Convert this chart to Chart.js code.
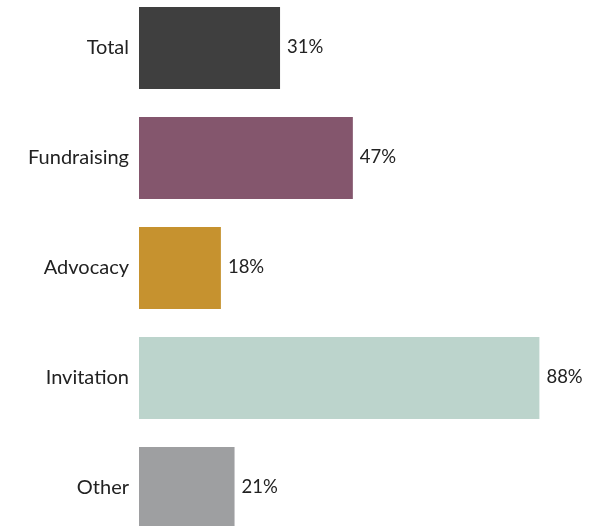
<!DOCTYPE html>
<html><head><meta charset="utf-8">
<script src="https://cdn.jsdelivr.net/npm/chart.js@4/dist/chart.umd.min.js"></script>
<style>
html,body{margin:0;padding:0;background:#fff;overflow:hidden;width:598px;height:526px;}
#wrap{position:absolute;left:0;top:-7px;width:598px;height:550px;}
</style></head>
<body><div id="wrap"><canvas id="c"></canvas></div>
<script>
const categories = ["Total","Fundraising","Advocacy","Invitation","Other"];
const values = [31,47,18,88,21];
const colors = ["#3f3f3f","#84566d","#c6922f","#bcd4cc","#9e9fa1"];

const labelPlugin = {
  id:'valLabels',
  afterDatasetsDraw(chart){
    const ctx = chart.ctx;
    const meta = chart.getDatasetMeta(0);
    ctx.save();
    ctx.font = '18.5px Lato, "Noto Sans", sans-serif';
    ctx.fillStyle = '#222';
    ctx.textAlign = 'left';
    ctx.textBaseline = 'middle';
    meta.data.forEach((bar,i)=>{
      ctx.fillText(values[i] + '%', bar.x + 7, bar.y - 1);
    });
    ctx.restore();
  }
};

new Chart(document.getElementById('c'), {
  type:'bar',
  data:{labels:categories, datasets:[{data:values, backgroundColor:colors, borderWidth:0, barPercentage:0.745, categoryPercentage:1}]},
  options:{
    indexAxis:'y',
    responsive:true, maintainAspectRatio:false, animation:false,
    layout:{padding:{left:0,right:4,top:0,bottom:0}},
    plugins:{legend:{display:false}, tooltip:{enabled:false}},
    scales:{
      x:{min:0,max:100,display:false},
      y:{
        grid:{display:false,drawTicks:false}, border:{display:false},
        ticks:{color:'#222', padding:10, font:{family:'Lato, "Noto Sans", sans-serif', size:20}},
        afterFit(s){ s.width = 139; s.paddingTop = 0; s.paddingBottom = 0; }
      }
    }
  },
  plugins:[labelPlugin]
});
</script></body></html>
